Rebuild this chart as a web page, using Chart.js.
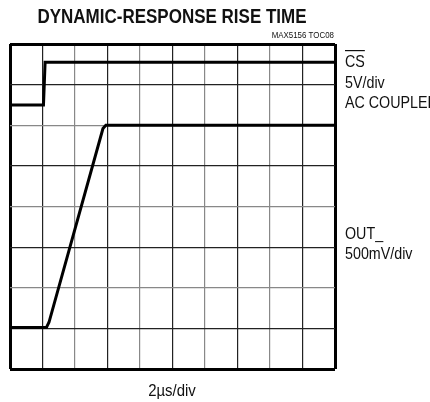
<!DOCTYPE html>
<html>
<head>
<meta charset="utf-8">
<script src="https://cdn.jsdelivr.net/npm/chart.js@4/dist/chart.umd.min.js"></script>
<style>
  html, body { margin: 0; padding: 0; background: #fff; }
  #wrap { position: relative; width: 430px; height: 402px; }
</style>
</head>
<body>
<div id="wrap"><canvas id="scope" width="430" height="402"></canvas></div>
<script>
// trace readings in divisions (x: 10 div of 2us, y: 8 div)
var csX  = [0, 1.03, 1.08, 10];
var csY  = [6.5, 6.5, 7.55, 7.55];
var outX = [0, 1.12, 1.2, 2.86, 2.95, 10];
var outY = [1.02, 1.02, 1.15, 5.92, 6.0, 6.0];

var xDivs = 10, yDivs = 8;
var FONT = "'Liberation Sans Narrow', 'Arial Narrow', 'Liberation Sans', sans-serif";

function pts(xs, ys) {
  return xs.map(function (x, i) { return { x: x, y: ys[i] }; });
}

// narrow text by squeezing horizontally
function txt(c, s, x, y, sx) {
  c.save();
  c.translate(x, y);
  c.scale(sx, 1);
  c.fillText(s, 0, 0);
  var w = c.measureText(s).width * sx;
  c.restore();
  return w;
}

var labels = {
  id: 'labels',
  afterDraw: function (chart) {
    var c = chart.ctx;
    c.save();
    c.fillStyle = '#111';
    c.textBaseline = 'middle';

    c.font = 'bold 20px ' + FONT;
    c.textAlign = 'center';
    txt(c, 'DYNAMIC-RESPONSE RISE TIME', 172, 17, 0.85);

    c.font = '9px ' + FONT;
    c.textAlign = 'right';
    txt(c, 'MAX5156 TOC08', 334, 36, 0.88);

    c.font = '17px ' + FONT;
    c.textAlign = 'left';
    var w = txt(c, 'CS', 345, 62, 0.84);
    c.fillRect(345, 50, w, 1.2);
    txt(c, '5V/div', 345, 83, 0.84);
    txt(c, 'AC COUPLED', 345, 103, 0.84);
    txt(c, 'OUT_', 345, 234, 0.84);
    txt(c, '500mV/div', 345, 254, 0.84);

    c.textAlign = 'center';
    txt(c, '2\u00b5s/div', 172, 391, 0.88);
    c.restore();
  }
};

function gridColor(ctx) {
  return ctx.tick && ctx.tick.value % 2 === 1 ? '#222' : '#888';
}

new Chart(document.getElementById('scope'), {
  type: 'line',
  data: {
    datasets: [
      { label: 'CS', data: pts(csX, csY), borderColor: '#000', borderWidth: 3, pointRadius: 0, fill: false },
      { label: 'OUT_', data: pts(outX, outY), borderColor: '#000', borderWidth: 3, pointRadius: 0, fill: false }
    ]
  },
  options: {
    responsive: false,
    animation: false,
    layout: { padding: { left: 10, top: 44, right: 95, bottom: 33 } },
    plugins: { legend: { display: false }, tooltip: { enabled: false } },
    scales: {
      x: {
        type: 'linear', min: 0, max: xDivs,
        ticks: { display: false, stepSize: 1 },
        border: { display: false },
        grid: {
          drawTicks: false, tickLength: 0,
          color: function (ctx) { return (ctx.tick.value === 0 || ctx.tick.value === xDivs) ? '#000' : gridColor(ctx); },
          lineWidth: function (ctx) { return (ctx.tick.value === 0 || ctx.tick.value === xDivs) ? 3 : 1.2; }
        }
      },
      y: {
        type: 'linear', min: 0, max: yDivs,
        ticks: { display: false, stepSize: 1 },
        border: { display: false },
        grid: {
          drawTicks: false, tickLength: 0,
          color: function (ctx) { return (ctx.tick.value === 0 || ctx.tick.value === yDivs) ? '#000' : gridColor(ctx); },
          lineWidth: function (ctx) { return (ctx.tick.value === 0 || ctx.tick.value === yDivs) ? 3 : 1.2; }
        }
      }
    }
  },
  plugins: [labels]
});
</script>
</body>
</html>
